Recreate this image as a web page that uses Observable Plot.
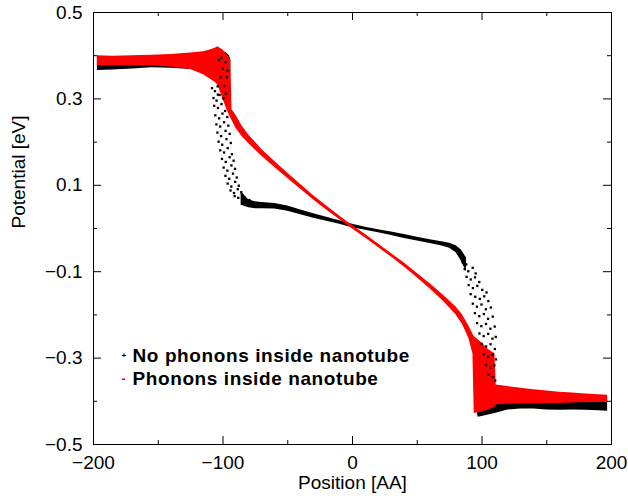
<!DOCTYPE html>
<html><head><meta charset="utf-8">
<script src="https://cdn.jsdelivr.net/npm/d3@7"></script>
<script src="https://cdn.jsdelivr.net/npm/@observablehq/plot@0.6"></script>
<style>body{margin:0;background:#fff}#chart{width:628px;height:498px}</style>
</head><body><div id="chart"></div><script>
// Tick values
const xMajor = [-200, -100, 0, 100, 200];
const xMinor = [-150, -50, 50, 150];
const yMajor = [-0.5, -0.3, -0.1, 0.1, 0.3, 0.5];
const yMinor = [-0.4, -0.2, 0, 0.2, 0.4];

// Series names
const seriesNames = ["No phonons inside nanotube", "Phonons inside nanotube"];

// "No phonons" dense band (segment, x, lower, upper)
const blackSeg = ["L","L","L","L","L","L","L","L","L","L","L","L","L",
  "M","M","M","M","M","M","M","M","M","M","M","M","M","M","M","M","M","M","M","M","M","M",
  "R","R","R","R","R","R","R","R","R","R","R","R","R","R"];
const blackX = [-197,-185,-170,-155,-140,-125,-115,-110,-106,-102,-98,-95,-94,
  -86,-80,-75,-70,-60,-50,-40,-30,-20,-10,0,10,20,30,40,50,60,70,75,80,84,88,
  95,97,100,105,110,120,130,140,150,160,170,180,190,197];
const blackLo = [0.366,0.367,0.369,0.372,0.371,0.368,0.366,0.362,0.355,0.33,0.31,0.32,0.36,
  0.054,0.048,0.046,0.046,0.045,0.040,0.032,0.024,0.017,0.010,0.002,-0.004,-0.010,-0.016,-0.023,-0.029,-0.035,-0.041,-0.046,-0.056,-0.075,-0.10,
  -0.40,-0.437,-0.435,-0.432,-0.428,-0.42,-0.418,-0.418,-0.42,-0.421,-0.42,-0.421,-0.422,-0.423];
const blackHi = [0.397,0.396,0.396,0.397,0.398,0.400,0.404,0.406,0.408,0.41,0.408,0.40,0.39,
  0.085,0.066,0.062,0.060,0.058,0.052,0.043,0.034,0.026,0.018,0.010,0.003,-0.003,-0.008,-0.014,-0.020,-0.026,-0.031,-0.034,-0.040,-0.050,-0.068,
  -0.33,-0.30,-0.33,-0.36,-0.38,-0.39,-0.392,-0.393,-0.394,-0.395,-0.396,-0.396,-0.397,-0.397];

// "No phonons" scattered points in the two steep steps
const blackDotX = [
  -103,-100,-98,-102,-99,-97,-104,-101,-96.5,
  -108.5,-106.2,-104.1,-107.3,-105.0,-102.6,-99.8,-97.9,
  -106.8,-103.9,-101.2,-98.4,-105.9,-103.0,-100.4,-96.7,
  -105.1,-102.2,-99.1,-95.9,-104.3,-101.5,-98.0,-94.8,
  -103.4,-100.6,-97.3,-94.0,-102.1,-99.2,-96.4,-93.1,
  -100.8,-97.9,-94.9,-91.8,-99.5,-96.6,-93.5,-90.7,
  -98.1,-95.2,-92.3,-89.4,-96.4,-93.6,-90.6,-87.8,
  -94.2,-91.5,-88.6,-85.9,-91.0,-88.2,-85.1,-82.3,-79.6,
  83.5,86.2,85.0,87.9,86.6,89.4,92.8,95.1,
  88.1,91.3,94.6,97.9,89.7,93.0,96.4,100.2,103.5,
  91.2,94.8,98.3,101.7,104.9,92.9,96.1,99.6,103.0,106.8,
  94.5,97.9,101.4,104.7,108.3,96.2,99.5,103.1,106.5,109.8,
  98.0,101.3,104.8,108.1,110.6,99.7,103.2,106.6,109.9,
  101.4,104.9,108.2,110.8,103.1,106.4,109.6,105.0,108.3,110.2];
const blackDotY = [
  0.39,0.37,0.385,0.35,0.33,0.35,0.31,0.395,0.365,
  0.325,0.318,0.329,0.302,0.296,0.309,0.301,0.312,
  0.284,0.279,0.288,0.272,0.262,0.255,0.266,0.258,
  0.241,0.236,0.246,0.238,0.222,0.214,0.226,0.219,
  0.201,0.194,0.207,0.198,0.181,0.176,0.186,0.172,
  0.161,0.154,0.165,0.157,0.141,0.134,0.146,0.138,
  0.122,0.115,0.127,0.118,0.104,0.097,0.108,0.099,
  0.088,0.082,0.091,0.084,0.075,0.071,0.077,0.068,0.066,
  -0.062,-0.068,-0.078,-0.083,-0.094,-0.099,-0.091,-0.104,
  -0.112,-0.118,-0.113,-0.124,-0.131,-0.138,-0.133,-0.142,-0.148,
  -0.152,-0.158,-0.163,-0.157,-0.168,-0.174,-0.181,-0.176,-0.187,-0.183,
  -0.196,-0.203,-0.198,-0.209,-0.204,-0.219,-0.226,-0.221,-0.232,-0.227,
  -0.243,-0.249,-0.244,-0.255,-0.251,-0.267,-0.273,-0.268,-0.279,
  -0.291,-0.297,-0.292,-0.303,-0.316,-0.322,-0.317,-0.338,-0.344,-0.352];

// "Phonons" band (x, lower, upper)
const redX = [-197,-185,-170,-155,-140,-125,-115,-110,-106,-104,-100,-97,-94,-93,
  -90,-85,-80,-70,-60,-50,-40,-30,-20,-10,0,10,20,30,40,50,60,70,80,85,90,93,
  94,100,105,110,111,120,130,140,150,160,170,180,190,197];
const redLo = [0.376,0.377,0.377,0.376,0.374,0.368,0.356,0.346,0.338,0.332,0.30,0.275,0.255,0.25,
  0.232,0.212,0.196,0.167,0.141,0.116,0.091,0.066,0.043,0.021,-0.001,-0.022,-0.044,-0.066,-0.089,-0.114,-0.140,-0.168,-0.200,-0.222,-0.256,-0.29,
  -0.428,-0.425,-0.42,-0.414,-0.408,-0.407,-0.406,-0.406,-0.405,-0.405,-0.404,-0.403,-0.403,-0.403];
const redHi = [0.400,0.399,0.400,0.401,0.403,0.406,0.409,0.413,0.417,0.421,0.413,0.403,0.39,0.275,
  0.262,0.236,0.216,0.183,0.155,0.128,0.102,0.076,0.052,0.029,0.007,-0.014,-0.036,-0.058,-0.080,-0.104,-0.128,-0.154,-0.182,-0.200,-0.226,-0.245,
  -0.25,-0.265,-0.28,-0.29,-0.362,-0.366,-0.370,-0.373,-0.376,-0.379,-0.381,-0.383,-0.385,-0.386];

const blackBand = blackX.map((x, i) => ({seg: blackSeg[i], x, lo: blackLo[i], hi: blackHi[i]}));
const blackDots = blackDotX.map((x, i) => ({x, y: blackDotY[i]}));
const redBand = redX.map((x, i) => ({x, lo: redLo[i], hi: redHi[i]}));

const W = 628, H = 498, mL = 93, mR = 17, mT = 12, mB = 54;
const pw = W - mL - mR, ph = H - mT - mB;
const font = "'Liberation Sans', Arial, Helvetica, sans-serif";
const fmtY = d3.format(".1f");
const fmtX = d3.format("d");

const chart = Plot.plot({
  width: W, height: H,
  marginLeft: mL, marginRight: mR, marginTop: mT, marginBottom: mB,
  style: {fontFamily: font, fontSize: "19px", background: "white", color: "black"},
  x: {domain: [-200, 200]},
  y: {domain: [-0.5, 0.5]},
  marks: [
    Plot.areaY(blackBand, {x: "x", y1: "lo", y2: "hi", z: "seg", fill: "black"}),
    Plot.areaY(redBand, {x: "x", y1: "lo", y2: "hi", fill: "#ff0000"}),
    Plot.dot(blackDots, {x: "x", y: "y", r: 1.3, fill: "black", symbol: "square"}),
    Plot.frame({stroke: "black", strokeWidth: 1}),
    Plot.tickX(xMajor, {x: d => d, insetTop: ph - 8, stroke: "black"}),
    Plot.tickX(xMajor, {x: d => d, insetBottom: ph - 8, stroke: "black"}),
    Plot.tickX(xMinor, {x: d => d, insetTop: ph - 4, stroke: "black"}),
    Plot.tickX(xMinor, {x: d => d, insetBottom: ph - 4, stroke: "black"}),
    Plot.tickY(yMajor, {y: d => d, insetRight: pw - 8, stroke: "black"}),
    Plot.tickY(yMajor, {y: d => d, insetLeft: pw - 8, stroke: "black"}),
    Plot.tickY(yMinor, {y: d => d, insetRight: pw - 4, stroke: "black"}),
    Plot.tickY(yMinor, {y: d => d, insetLeft: pw - 4, stroke: "black"}),
    Plot.axisX(xMajor, {tickSize: 0, tickPadding: 11, tickFormat: fmtX, fontSize: 19, label: null}),
    Plot.axisY(yMajor, {tickSize: 0, tickPadding: 11, tickFormat: fmtY, fontSize: 19, label: null}),
    Plot.text(["Position [AA]"], {frameAnchor: "bottom", dy: 44, fontSize: 19}),
    Plot.text(["Potential [eV]"], {frameAnchor: "left", dx: -75, rotate: -90, fontSize: 19}),
    Plot.text([seriesNames[0]], {frameAnchor: "top-left", dx: 39, dy: 336, textAnchor: "start", fontSize: 19, fontWeight: "bold"}),
    Plot.text([seriesNames[1]], {frameAnchor: "top-left", dx: 39, dy: 359, textAnchor: "start", fontSize: 19, fontWeight: "bold"}),
    Plot.text(["+"], {frameAnchor: "top-left", dx: 28, dy: 340, fontSize: 8, fontWeight: "bold", fill: "black"}),
    Plot.text(["-"], {frameAnchor: "top-left", dx: 28, dy: 362, fontSize: 12, fontWeight: "bold", fill: "#ff0000"})
  ]
});
// Legend text in the reference is slightly wider than the font's natural width
d3.select(chart).selectAll("text")
  .filter(function() { return seriesNames.includes(this.textContent); })
  .style("letter-spacing", "0.6px");
document.getElementById("chart").append(chart);
</script></body></html>
